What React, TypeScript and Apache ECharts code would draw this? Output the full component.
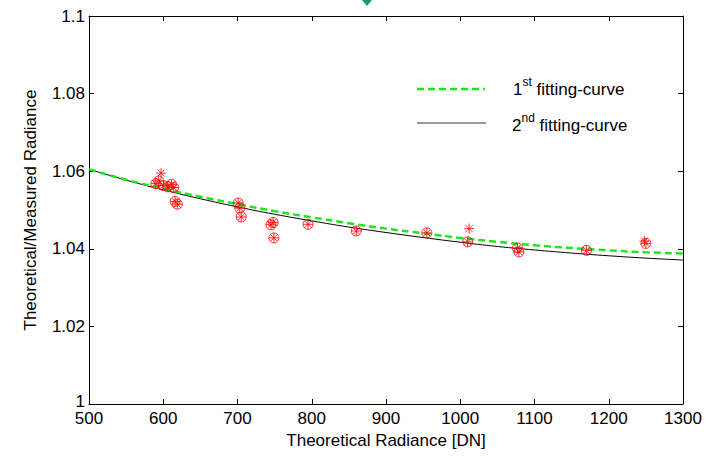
import React, { useEffect, useRef } from "react";
import * as echarts from "echarts";

const curveX = [500, 550, 600, 650, 700, 750, 800, 850, 900, 950, 1000, 1050, 1100, 1150, 1200, 1250, 1300];
const firstFit = [1.0605, 1.0578, 1.0555, 1.0534, 1.0515, 1.0497, 1.0481, 1.0466, 1.0452, 1.044, 1.0428, 1.0418, 1.0409, 1.0402, 1.0396, 1.0391, 1.0388];
const secondFit = [1.0605, 1.0577, 1.0552, 1.0529, 1.0508, 1.0489, 1.0472, 1.0456, 1.0442, 1.0429, 1.0417, 1.0406, 1.0397, 1.0389, 1.0382, 1.0376, 1.0371];

// measured points drawn as circle + asterisk
const circlePts: [number, number][] = [
  [590, 1.0568], [594, 1.0575], [600, 1.0563], [606, 1.056], [611, 1.0566], [614, 1.0558],
  [616, 1.0522], [619, 1.0515],
  [701, 1.0518], [703, 1.0505], [705, 1.0482],
  [745, 1.0462], [748, 1.0468], [749, 1.0428],
  [795, 1.0463], [860, 1.0446], [955, 1.0441],
  [1010, 1.0418], [1077, 1.0402], [1079, 1.0392], [1170, 1.0396], [1250, 1.0414],
];
const starPts: [number, number][] = [
  [590, 1.0568], [594, 1.0575], [597, 1.0595], [600, 1.0563], [606, 1.056], [611, 1.0566], [614, 1.0558],
  [616, 1.0522], [619, 1.0515],
  [701, 1.0518], [703, 1.0505], [705, 1.0482],
  [745, 1.0462], [748, 1.0468], [749, 1.0428],
  [795, 1.0463], [860, 1.0446], [955, 1.0441],
  [1010, 1.0418], [1012, 1.0452], [1077, 1.0402], [1079, 1.0392], [1170, 1.0396], [1248, 1.042], [1250, 1.0414],
];

const xMin = 500, xMax = 1300, xStep = 100;
const yMin = 1, yMax = 1.1, yStep = 0.02;

const FONT = "'Liberation Sans', Arial, sans-serif";

export default function App() {
  const ref = useRef<HTMLDivElement>(null);
  useEffect(() => {
    if (!ref.current) return;
    const chart = echarts.init(ref.current, null, { renderer: "svg" });
    const axisCommon = {
      axisLine: { show: true, lineStyle: { color: "#000", width: 1 } },
      axisTick: { show: true, inside: true, length: 5, lineStyle: { color: "#000" } },
      splitLine: { show: false },
    };
    chart.setOption({
      animation: false,
      backgroundColor: "#fff",
      grid: { left: 89, right: 42, top: 16, bottom: 52 },
      xAxis: [
        {
          type: "value", min: xMin, max: xMax, interval: xStep,
          ...axisCommon,
          axisLabel: {
            color: "#000", fontFamily: FONT, fontSize: 17, margin: 8, lineHeight: 13,
            formatter: (v: number) => String(v),
          },
          name: "Theoretical Radiance [DN]", nameLocation: "middle", nameGap: 28,
          nameTextStyle: { color: "#000", fontFamily: FONT, fontSize: 17 },
        },
        {
          type: "value", position: "top", min: xMin, max: xMax, interval: xStep,
          ...axisCommon, axisLabel: { show: false },
        },
      ],
      yAxis: [
        {
          type: "value", min: yMin, max: yMax, interval: yStep,
          ...axisCommon,
          axisLabel: {
            color: "#000", fontFamily: FONT, fontSize: 17, margin: 4, lineHeight: 13,
            formatter: (v: number) => {
              const s = String(parseFloat(v.toFixed(2)));
              return v === yMin ? "{low|" + s + "}" : s;
            },
            rich: {
              low: { color: "#000", fontFamily: FONT, fontSize: 17, lineHeight: 13, padding: [0, 0, 6, 0] },
            },
          },
          name: "Theoretical/Measured Radiance", nameLocation: "middle", nameGap: 50,
          nameTextStyle: { color: "#000", fontFamily: FONT, fontSize: 17 },
        },
        {
          type: "value", position: "right", min: yMin, max: yMax, interval: yStep,
          ...axisCommon, axisLabel: { show: false },
        },
      ],
      series: [
        {
          type: "line", name: "2nd fitting-curve", data: curveX.map((x, i) => [x, secondFit[i]]),
          smooth: true, symbol: "none", lineStyle: { color: "#000", width: 1 }, z: 2,
        },
        {
          type: "line", name: "1st fitting-curve", data: curveX.map((x, i) => [x, firstFit[i]]),
          smooth: true, symbol: "none", lineStyle: { color: "#1fe51f", width: 2.5, type: [7, 4] }, z: 3,
        },
        {
          type: "scatter", data: circlePts, symbol: "circle", symbolSize: 10,
          itemStyle: { color: "rgba(0,0,0,0)", borderColor: "#ff0000", borderWidth: 1 }, z: 4,
        },
        {
          type: "scatter", data: starPts,
          symbol: "path://M5,0L5,10M0,5L10,5M1.5,1.5L8.5,8.5M1.5,8.5L8.5,1.5", symbolSize: 10,
          itemStyle: { color: "rgba(0,0,0,0)", borderColor: "#ff0000", borderWidth: 1 }, z: 5,
        },
      ],
      graphic: [
        {
          type: "line", shape: { x1: 417, y1: 89, x2: 485, y2: 89 },
          style: { stroke: "#1fe51f", lineWidth: 2.5, lineDash: [7, 4] },
        },
        {
          type: "line", shape: { x1: 417, y1: 123, x2: 486, y2: 123 },
          style: { stroke: "#333", lineWidth: 1 },
        },
        {
          type: "text", x: 513, y: 87,
          style: {
            text: "{n|1}{s|st}{n| fitting-curve}",
            fontFamily: FONT, fill: "#000", verticalAlign: "middle",
            rich: {
              n: { fontSize: 17, fontFamily: FONT, fill: "#000", lineHeight: 22, verticalAlign: "bottom" },
              s: { fontSize: 12, fontFamily: FONT, fill: "#000", lineHeight: 22, verticalAlign: "top" },
            },
          },
        },
        {
          type: "text", x: 512, y: 123,
          style: {
            text: "{n|2}{s|nd}{n| fitting-curve}",
            fontFamily: FONT, fill: "#000", verticalAlign: "middle",
            rich: {
              n: { fontSize: 17, fontFamily: FONT, fill: "#000", lineHeight: 22, verticalAlign: "bottom" },
              s: { fontSize: 12, fontFamily: FONT, fill: "#000", lineHeight: 22, verticalAlign: "top" },
            },
          },
        },
        {
          type: "polygon", shape: { points: [[362, 0], [372, 0], [367, 6]] },
          style: { fill: "#1a9a6a" },
        },
      ],
    });
    return () => chart.dispose();
  }, []);
  return (
    <div
      ref={ref}
      style={{ position: "fixed", left: 0, top: 0, width: 725, height: 456, background: "#fff" }}
    />
  );
}
